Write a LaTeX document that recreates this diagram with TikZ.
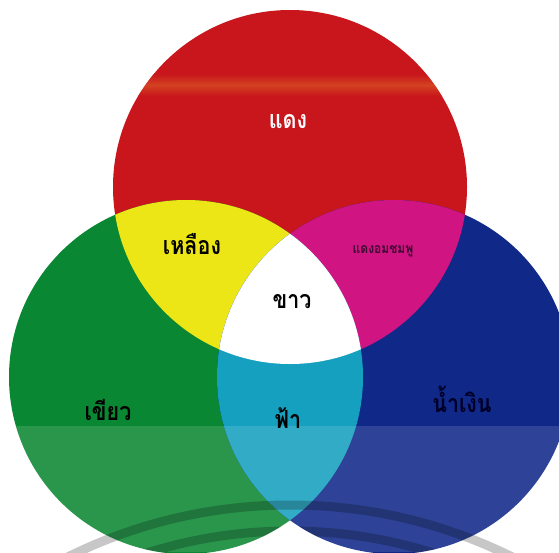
\documentclass[tikz,border=0pt]{standalone}
\usepackage{fontspec}
\newfontfamily\thaifont[Script=Thai,FakeStretch=0.86]{Loma}
\definecolor{cred}{RGB}{200,22,28}
\definecolor{cgreen}{RGB}{10,135,50}
\definecolor{cblue}{RGB}{16,40,136}
\definecolor{cyellow}{RGB}{236,230,22}
\definecolor{cmagenta}{RGB}{208,20,130}
\definecolor{ccyan}{RGB}{20,160,190}
\definecolor{cband}{RGB}{225,120,40}
\definecolor{cmagtext}{RGB}{60,10,50}
\def\redc{(290,187) circle[radius=177]}
\def\greenc{(186,377) circle[radius=177]}
\def\bluec{(394,377) circle[radius=177]}
\tikzset{
  lbl/.style={font=\thaifont\bfseries\fontsize{25}{27}\selectfont, inner sep=0pt},
  wm/.style={draw=black, opacity=0.22, line width=9pt}
}
\begin{document}
\begin{tikzpicture}[x=1pt,y=-1pt]
\useasboundingbox (0,0) rectangle (559,552);
\fill[white] (0,0) rectangle (559,552);
\begin{scope}
  \clip (0,0) rectangle (559,552);
  % primary circles
  \fill[cred] \redc;
  \fill[cgreen] \greenc;
  \fill[cblue] \bluec;
  % scanning band on red
  \begin{scope}
    \clip \redc;
    \shade[top color=cred, bottom color=cred, middle color=cband, opacity=0.45] (0,74) rectangle (559,96);
  \end{scope}
  % pair intersections
  \begin{scope}\clip \redc; \fill[cyellow] \greenc; \end{scope}
  \begin{scope}\clip \redc; \fill[cmagenta] \bluec; \end{scope}
  \begin{scope}\clip \greenc; \fill[ccyan] \bluec; \end{scope}
  % triple intersection
  \begin{scope}\clip \redc; \clip \greenc; \fill[white] \bluec; \end{scope}
  % lighter lower band
  \fill[white, opacity=0.13] (0,426) rectangle (559,552);
  % watermark arcs
  \draw[wm] (290,1005) circle[radius=500];
  \begin{scope}
    \clip \greenc \bluec;
    \draw[wm] (290,1005) circle[radius=474];
  \end{scope}
\end{scope}
% labels
\node[lbl, text=white] (red) at (288,122) {แดง};
\node[lbl, text=black] (yellow) at (192,244) {เหลือง};
\node[lbl, text=cmagtext, font=\thaifont\bfseries\fontsize{14}{15}\selectfont] (magenta) at (383,251) {แดงอมชมพู};
\node[lbl, text=black] (white) at (292,302) {ขาว};
\node[lbl, text=black] (green) at (108,410) {เขียว};
\node[lbl, text=black] (cyan) at (288,418) {ฟ้า};
\node[lbl, text=black!85!blue] (blue) at (462,399) {น้ำเงิน};
\end{tikzpicture}
\end{document}
